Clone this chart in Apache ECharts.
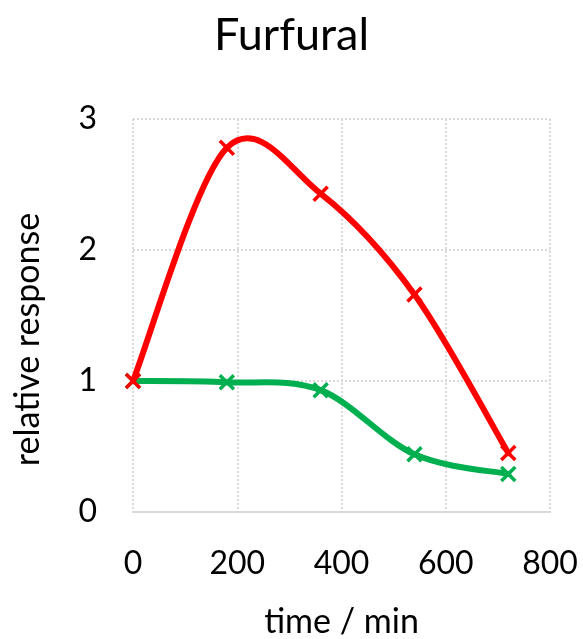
<!DOCTYPE html>
<html>
<head>
<meta charset="utf-8">
<script src="https://cdn.jsdelivr.net/npm/echarts@6/dist/echarts.min.js"></script>
<style>
  html, body { margin: 0; padding: 0; background: #fff; }
  #chart { width: 583px; height: 639px; }
</style>
</head>
<body>
<div id="chart"></div>
<script>
// time points (min) and relative response of each series
const times = [0, 180, 360, 540, 720];
const redValues = [1.0, 2.78, 2.43, 1.66, 0.45];
const greenValues = [1.0, 0.99, 0.93, 0.44, 0.29];
const xTicks = [0, 200, 400, 600, 800];
const yTicks = [0, 1, 2, 3];

const FONT = 'Lato';
const CROSS = 'path://M0,0L10,10M10,0L0,10';

function pairs(xs, ys) {
  return xs.map((x, i) => [x, ys[i]]);
}

// Excel style smoothed line: cubic segments with Catmull-Rom tangents (1/6),
// points mapped through the grid with api.coord
function smoothCurve(values, color, z) {
  return {
    type: 'custom',
    data: pairs(times, values),
    z: z,
    silent: true,
    renderItem: function (params, api) {
      if (params.dataIndex !== 0) return null;
      const p = times.map((t, i) => api.coord([t, values[i]]));
      const n = p.length;
      const children = [];
      for (let i = 0; i < n - 1; i++) {
        const prev = p[Math.max(i - 1, 0)];
        const a = p[i];
        const b = p[i + 1];
        const next = p[Math.min(i + 2, n - 1)];
        children.push({
          type: 'bezierCurve',
          shape: {
            x1: a[0], y1: a[1],
            cpx1: a[0] + (b[0] - prev[0]) / 6, cpy1: a[1] + (b[1] - prev[1]) / 6,
            cpx2: b[0] - (next[0] - a[0]) / 6, cpy2: b[1] - (next[1] - a[1]) / 6,
            x2: b[0], y2: b[1]
          },
          style: { stroke: color, lineWidth: 6, fill: null, lineCap: 'round' }
        });
      }
      return { type: 'group', children: children };
    }
  };
}

function markers(values, color, z) {
  return {
    type: 'scatter',
    data: pairs(times, values),
    symbol: CROSS,
    symbolSize: 14,
    z: z,
    itemStyle: { color: 'none', borderColor: color, borderWidth: 3.5, opacity: 1 }
  };
}

const chart = echarts.init(document.getElementById('chart'), null, { renderer: 'canvas' });

chart.setOption({
  animation: false,
  backgroundColor: '#ffffff',
  textStyle: { fontFamily: FONT, color: '#000' },
  title: {
    text: 'Furfural',
    left: 'center',
    top: 8,
    textStyle: { fontFamily: FONT, fontSize: 45, fontWeight: 'normal', color: '#000' }
  },
  grid: { left: 133, right: 33, top: 119, bottom: 127, outerBoundsMode: 'none', containLabel: false },
  xAxis: {
    type: 'value',
    min: xTicks[0],
    max: xTicks[xTicks.length - 1],
    interval: 200,
    name: 'time / min',
    nameLocation: 'middle',
    nameGap: 93,
    nameTextStyle: { fontFamily: FONT, fontSize: 34, color: '#000' },
    axisLine: { show: true, lineStyle: { color: '#d9d9d9', width: 2 } },
    axisTick: { show: false },
    axisLabel: { margin: 36, fontSize: 32, color: '#000', fontFamily: FONT },
    splitLine: { show: true, lineStyle: { color: '#d9d9d9', type: 'dotted', width: 2 } }
  },
  yAxis: {
    type: 'value',
    min: yTicks[0],
    max: yTicks[yTicks.length - 1],
    interval: 1,
    name: 'relative response',
    nameLocation: 'middle',
    nameGap: 88,
    nameTextStyle: { fontFamily: FONT, fontSize: 34, color: '#000', padding: [0, 48, 0, 0] },
    axisLine: { show: false },
    axisTick: { show: false },
    axisLabel: { margin: 36, fontSize: 32, color: '#000', fontFamily: FONT },
    splitLine: { show: true, lineStyle: { color: '#d9d9d9', type: 'dotted', width: 2 } }
  },
  series: [
    smoothCurve(greenValues, '#00b050', 2),
    markers(greenValues, '#00b050', 3),
    smoothCurve(redValues, '#ff0000', 4),
    markers(redValues, '#ff0000', 5)
  ]
});
</script>
</body>
</html>
